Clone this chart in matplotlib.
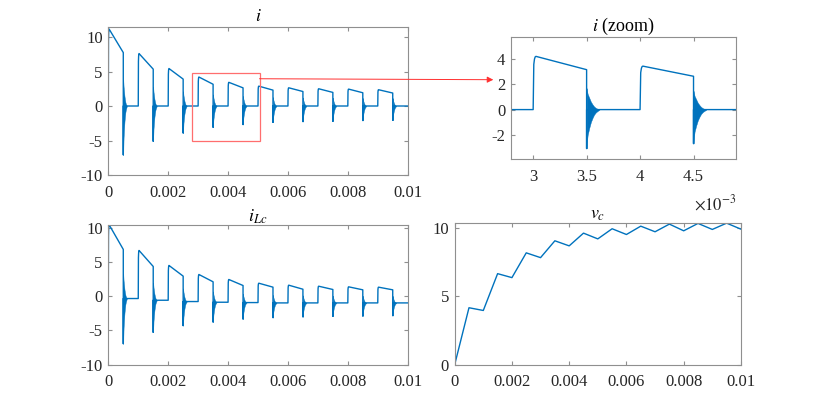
import numpy as np
import matplotlib
matplotlib.use("Agg")
import matplotlib.pyplot as plt
from matplotlib.patches import Rectangle, ConnectionPatch

# Switching instants (s)
t_on = [0.0, 0.001, 0.002, 0.003, 0.004, 0.005, 0.006, 0.007, 0.008, 0.009]
t_off = [0.0005, 0.0015, 0.0025, 0.0035, 0.0045, 0.0055, 0.0065, 0.0075, 0.0085, 0.0095]

# i : value after turn-on, value before turn-off, ringing minimum, level when off
i_peak = [11.15, 7.6, 5.43, 4.2, 3.43, 2.88, 2.64, 2.5, 2.45, 2.36]
i_end = [7.74, 5.34, 3.9, 3.15, 2.63, 2.3, 2.1, 1.97, 1.92, 1.88]
i_spike = [-7.07, -5.1, -3.9, -3.07, -2.68, -2.35, -2.25, -2.2, -2.1, -2.07]
i_base = [0.0, 0.0, 0.0, 0.0, 0.0, 0.0, 0.0, 0.0, 0.0, 0.0]

# i_Lc
ilc_peak = [10.44, 6.68, 4.49, 3.17, 2.44, 1.9, 1.61, 1.46, 1.37, 1.32]
ilc_end = [6.83, 4.34, 2.93, 2.1, 1.56, 1.32, 1.02, 0.98, 0.93, 0.93]
ilc_spike = [-6.93, -5.27, -4.29, -3.76, -3.32, -3.12, -3.0, -2.93, -2.88, -2.83]
ilc_base = [-0.34, -0.59, -0.78, -0.88, -0.93, -0.98, -0.98, -0.98, -0.98, -0.98]

# v_c
vc_t = [0.0, 0.0005, 0.001, 0.0015, 0.002, 0.0025, 0.003, 0.0035, 0.004, 0.0045, 0.005,
        0.0055, 0.006, 0.0065, 0.007, 0.0075, 0.008, 0.0085, 0.009, 0.0095, 0.01]
vc_val = [0.0, 4.16, 3.96, 6.65, 6.36, 8.17, 7.82, 9.05, 8.68, 9.61, 9.19,
          9.93, 9.51, 10.12, 9.71, 10.27, 9.78, 10.32, 9.88, 10.34, 9.9]

# shape of the turn-on edge (time after t_on, fraction of the jump)
rise_dt = [0.0, 6e-6, 1.25e-5, 1.9e-5, 2.6e-5]
rise_frac = [0.0, 0.85, 0.95, 0.99, 1.0]
# ringing envelope after turn-off (time after t_off, fraction of spike depth)
ring_dt = [0.0, 2e-6, 1e-5, 2.5e-5, 4e-5, 5.6e-5, 7e-5, 8.7e-5, 1.2e-4]
ring_lo = [1.0, 0.85, 0.65, 0.47, 0.32, 0.21, 0.13, 0.07, 0.0]
ring_hi = [0.55, 0.5, 0.4, 0.3, 0.2, 0.13, 0.08, 0.04, 0.0]

BLUE = "#0072BD"
GREY = "#262626"
FS = 12
TFS = 13

plt.rcParams["font.family"] = ["Liberation Serif", "DejaVu Serif"]
plt.rcParams["mathtext.fontset"] = "stix"
plt.rcParams["axes.unicode_minus"] = False


def draw_trace(ax, peak, end, spike, base):
    tt, vv = [], []
    prev = 0.0
    for k in range(len(t_on)):
        for dt, fr in zip(rise_dt, rise_frac):
            tt.append(t_on[k] + dt)
            vv.append(prev + fr * (peak[k] - prev))
        tt += [t_off[k], t_off[k], t_off[k]]
        vv += [end[k], spike[k], base[k]]
        depth = base[k] - spike[k]
        rt = [t_off[k] + d for d in ring_dt]
        ax.fill_between(rt, [base[k] - f * depth for f in ring_lo],
                        [base[k] + f * depth for f in ring_hi],
                        color=BLUE, lw=0.3)
        prev = base[k]
    tt.append(0.01)
    vv.append(prev)
    ax.plot(tt, vv, color=BLUE, lw=1.0)


def style(ax):
    for s in ax.spines.values():
        s.set_color("#8f8f8f")
        s.set_linewidth(0.8)
    ax.tick_params(direction="in", top=True, right=True, length=3,
                   color="#8f8f8f", labelcolor=GREY, labelsize=FS)
    ax.tick_params(axis="x", pad=7)
    ax.tick_params(axis="y", pad=4)


xticks = [0, 0.002, 0.004, 0.006, 0.008, 0.01]
xlabels = ["0", "0.002", "0.004", "0.006", "0.008", "0.01"]

fig = plt.figure(figsize=(8.3, 3.94), dpi=100)
ax1 = fig.add_axes([0.1305, 0.5558, 0.3607, 0.3757])
ax2 = fig.add_axes([0.6153, 0.5964, 0.2718, 0.3104])
ax3 = fig.add_axes([0.1305, 0.0744, 0.3607, 0.3553])
ax4 = fig.add_axes([0.5478, 0.0744, 0.3449, 0.3596])

# i
draw_trace(ax1, i_peak, i_end, i_spike, i_base)
ax1.set_xlim(0, 0.01)
ax1.set_ylim(-10, 11.45)
ax1.set_xticks(xticks, xlabels)
ax1.set_yticks([-10, -5, 0, 5, 10])
ax1.set_title("$i$", fontsize=TFS, pad=4)
ax1.add_patch(Rectangle((0.0028, -5.0), 0.00225, 9.85, fill=False,
                        edgecolor="#ff6e6e", lw=0.9, zorder=5))

# i (zoom)
draw_trace(ax2, i_peak, i_end, i_spike, i_base)
ax2.set_xlim(0.00279, 0.0049)
ax2.set_ylim(-3.9, 5.75)
ax2.set_xticks([0.003, 0.0035, 0.004, 0.0045], ["3", "3.5", "4", "4.5"])
ax2.set_yticks([-2, 0, 2, 4])
ax2.set_title("$i$ (zoom)", fontsize=TFS, pad=4)
ax2.text(1.0, -0.37, r"$\times10^{-3}$", transform=ax2.transAxes,
         ha="right", va="center", fontsize=FS, color=GREY)

# i_Lc
draw_trace(ax3, ilc_peak, ilc_end, ilc_spike, ilc_base)
ax3.set_xlim(0, 0.01)
ax3.set_ylim(-10, 10.44)
ax3.set_xticks(xticks, xlabels)
ax3.set_yticks([-10, -5, 0, 5, 10])
ax3.set_title("$i_{Lc}$", fontsize=TFS, pad=2)

# v_c
ax4.plot(vc_t, vc_val, color=BLUE, lw=1.0)
ax4.set_xlim(0, 0.01)
ax4.set_ylim(0, 10.35)
ax4.set_xticks(xticks, xlabels)
ax4.set_yticks([0, 5, 10])
ax4.set_title("$v_c$", fontsize=TFS, pad=3)

for ax in (ax1, ax2, ax3, ax4):
    style(ax)

# connector from the box to the zoom panel
con = ConnectionPatch(xyA=(0.00505, 3.95), coordsA=ax1.transData,
                      xyB=(493.3 / 830, 1 - 79.7 / 394), coordsB=fig.transFigure,
                      arrowstyle="-|>", mutation_scale=9, color="#ff3030", lw=0.7)
fig.add_artist(con)

fig.savefig("out.png", dpi=100)
